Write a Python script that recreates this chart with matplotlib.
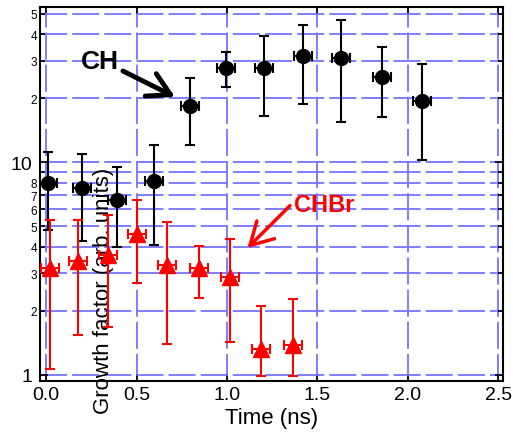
import matplotlib
matplotlib.use("Agg")
import matplotlib.pyplot as plt
from matplotlib.ticker import FixedLocator, FixedFormatter

plt.rcParams['font.family'] = ['Liberation Sans', 'DejaVu Sans']

# CH data (black circles): time, growth factor, error bar top and bottom
ch_t = [0.013, 0.197, 0.394, 0.597, 0.796, 0.996, 1.204, 1.418, 1.630, 1.855, 2.079]
ch_g = [7.99, 7.57, 6.64, 8.14, 18.35, 27.7, 27.7, 31.6, 31.1, 25.2, 19.5]
ch_hi = [11.2, 11.0, 9.47, 12.1, 24.9, 33.0, 39.2, 44.3, 46.9, 34.8, 29.0]
ch_lo = [4.80, 4.27, 3.98, 4.09, 12.1, 22.7, 16.6, 18.9, 15.4, 16.3, 10.3]
ch_dt = [0.05, 0.05, 0.05, 0.05, 0.05, 0.05, 0.05, 0.05, 0.05, 0.05, 0.05]

# CHBr data (red triangles)
chbr_t = [0.022, 0.179, 0.344, 0.505, 0.670, 0.845, 1.017, 1.186, 1.366]
chbr_g = [3.17, 3.42, 3.66, 4.61, 3.30, 3.18, 2.89, 1.32, 1.38]
chbr_hi = [5.37, 5.37, 5.65, 6.67, 5.22, 4.04, 4.35, 2.11, 2.28]
chbr_lo = [1.06, 1.53, 1.67, 2.69, 1.39, 2.29, 1.43, 0.99, 0.99]
chbr_dt = [0.05, 0.05, 0.05, 0.05, 0.05, 0.05, 0.05, 0.05, 0.05]

x_ticks = [0.0, 0.5, 1.0, 1.5, 2.0, 2.5]
x_labels = ["0.0", "0.5", "1.0", "1.5", "2.0", "2.5"]
y_major = [1, 10]
y_major_labels = ["1", "10"]
y_minor = [2, 3, 4, 5, 6, 7, 8, 9, 20, 30, 40, 50]
y_minor_labels = ["2", "3", "4", "5", "6", "7", "8", "", "2", "3", "4", "5"]

fig = plt.figure(figsize=(5.13, 4.35), dpi=100)
ax = fig.add_axes([0.077, 0.1225, 0.9035, 0.8585])
ax.set_yscale("log")

# asymmetric error sizes
ch_err = [[g - l for g, l in zip(ch_g, ch_lo)], [h - g for g, h in zip(ch_g, ch_hi)]]
chbr_err = [[g - l for g, l in zip(chbr_g, chbr_lo)], [h - g for g, h in zip(chbr_g, chbr_hi)]]

ax.errorbar(ch_t, ch_g, yerr=ch_err, xerr=ch_dt, fmt='o', color='black', ms=10,
            elinewidth=1.5, capsize=3.6, capthick=1.5, zorder=3)
ax.errorbar(chbr_t, chbr_g, yerr=chbr_err, xerr=chbr_dt, fmt='^', color='red', ms=11,
            elinewidth=1.5, capsize=3.6, capthick=1.5, zorder=3)

ax.set_xlim(-0.036, 2.525)
ax.set_ylim(0.937, 53.7)

ax.xaxis.set_major_locator(FixedLocator(x_ticks))
ax.xaxis.set_major_formatter(FixedFormatter(x_labels))
ax.xaxis.set_minor_locator(FixedLocator([]))
ax.yaxis.set_major_locator(FixedLocator(y_major))
ax.yaxis.set_major_formatter(FixedFormatter(y_major_labels))
ax.yaxis.set_minor_locator(FixedLocator(y_minor))
ax.yaxis.set_minor_formatter(FixedFormatter(y_minor_labels))

ax.tick_params(axis='both', which='both', direction='in', top=True, right=True, width=1.2)
ax.tick_params(axis='x', which='major', length=5, labelsize=14, pad=4)
ax.tick_params(axis='y', which='major', length=6, labelsize=14, pad=5)
ax.tick_params(axis='y', which='minor', length=3.5, labelsize=8.5, pad=1.5)
for s in ax.spines.values():
    s.set_linewidth(1.5)

gkw = dict(color='#7474ff', linewidth=1.3, linestyle=(0, (15, 2.8)))
ax.grid(True, which='both', axis='y', **gkw)
ax.grid(True, which='major', axis='x', **gkw)
ax.set_axisbelow(True)

ax.set_xlabel("Time (ns)", fontsize=16, labelpad=3)
ax.set_ylabel("Growth factor (arb. units)", fontsize=16)
ax.yaxis.set_label_coords(0.16, 0.243)

# labels and arrows
ax.text(0.30, 30, "CH", fontsize=19, fontweight='bold', ha='center', va='center')
ax.annotate("", xy=(0.713, 20.3), xytext=(0.425, 26.9),
            arrowprops=dict(arrowstyle='->,head_length=0.8,head_width=0.45', lw=3.5,
                            color='black', mutation_scale=20, shrinkA=0, shrinkB=0))
ax.text(1.535, 6.35, "CHBr", fontsize=17, fontweight='bold', color='red',
        ha='center', va='center')
ax.annotate("", xy=(1.113, 3.95), xytext=(1.348, 6.25),
            arrowprops=dict(arrowstyle='->,head_length=0.8,head_width=0.45', lw=2.5,
                            color='red', mutation_scale=20, shrinkA=0, shrinkB=0))

fig.savefig("out.png", dpi=100)
